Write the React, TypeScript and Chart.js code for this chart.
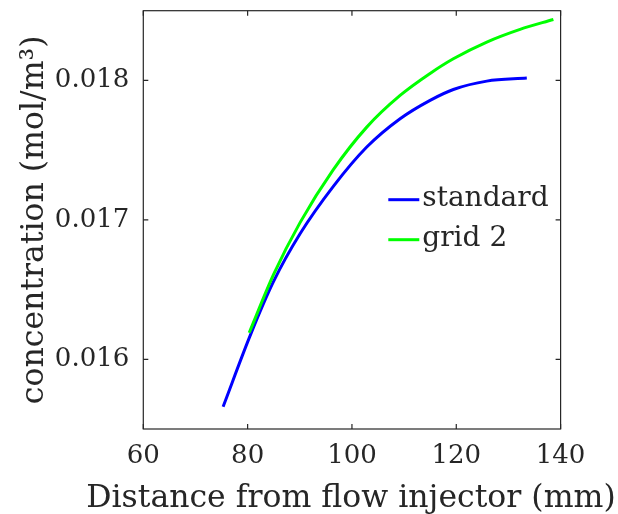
import React, { useEffect, useRef } from 'react';
import { Chart, registerables } from 'chart.js';

Chart.register(...registerables);

// ---- data ----
const standardX = [75.3, 80.6, 85, 90.05, 96.43, 102.84, 109.23, 114.98, 119.44, 125.85, 133.52];
const standardY = [0.01566, 0.01618, 0.01656, 0.0169, 0.01724, 0.017522, 0.017725, 0.017857, 0.017935, 0.017995, 0.018017];

const grid2X = [80.3, 85, 90.05, 96.43, 102.84, 109.23, 114.98, 119.44, 125.85, 132.23, 138.62];
const grid2Y = [0.01619, 0.01661, 0.01698, 0.01736, 0.017665, 0.017892, 0.01805, 0.018155, 0.018275, 0.018366, 0.018437];

const seriesNames = ['standard', 'grid 2'];
const seriesColors = ['#0000ff', '#00ff00'];

const xTicks = [60, 80, 100, 120, 140];
const yTicks = [0.016, 0.017, 0.018];
const xRange = [60, 140];
const yRange = [0.0155, 0.0185];

const xTitle = 'Distance from flow injector (mm)';
const yTitle = 'concentration (mol/m\u00B3)';

const AXIS = '#262626';
const FONT = "'DejaVu Serif', serif";

const boxPlugin = {
  id: 'matlabBox',
  afterDatasetsDraw(chart: any) {
    const { ctx, chartArea: a, scales } = chart;
    ctx.save();
    ctx.strokeStyle = AXIS;
    ctx.lineWidth = 1.2;
    ctx.strokeRect(a.left, a.top, a.right - a.left, a.bottom - a.top);
    const L = 5;
    ctx.beginPath();
    scales.x.ticks.forEach((t: any) => {
      const px = scales.x.getPixelForValue(t.value);
      ctx.moveTo(px, a.bottom);
      ctx.lineTo(px, a.bottom - L);
      ctx.moveTo(px, a.top);
      ctx.lineTo(px, a.top + L);
    });
    scales.y.ticks.forEach((t: any) => {
      const py = scales.y.getPixelForValue(t.value);
      ctx.moveTo(a.left, py);
      ctx.lineTo(a.left + L, py);
      ctx.moveTo(a.right, py);
      ctx.lineTo(a.right - L, py);
    });
    ctx.stroke();

    // legend inside the axes (no box)
    const lx0 = a.left + 245;
    const lx1 = a.left + 276;
    const tx = a.left + 279;
    const ly0 = a.top + 189;
    const rowH = 40;
    ctx.font = `28px ${FONT}`;
    ctx.textBaseline = 'middle';
    ctx.textAlign = 'left';
    chart.data.datasets.forEach((ds: any, i: number) => {
      const y = ly0 + i * rowH;
      ctx.strokeStyle = ds.borderColor;
      ctx.lineWidth = 3;
      ctx.beginPath();
      ctx.moveTo(lx0, y);
      ctx.lineTo(lx1, y);
      ctx.stroke();
      ctx.fillStyle = AXIS;
      ctx.fillText(ds.label, tx, y - 1);
    });

    // x-axis title (drawn unsquashed, wider than the axes)
    ctx.font = `31.5px ${FONT}`;
    ctx.fillStyle = AXIS;
    ctx.textAlign = 'center';
    ctx.textBaseline = 'alphabetic';
    ctx.fillText(xTitle, (a.left + a.right) / 2 - 1, a.bottom + 78);
    ctx.restore();
  },
};

export default function App() {
  const ref = useRef<HTMLCanvasElement>(null);

  useEffect(() => {
    if (!ref.current) return;
    const chart = new Chart(ref.current, {
      type: 'line',
      data: {
        datasets: [
          {
            label: seriesNames[0],
            data: standardX.map((x, i) => ({ x, y: standardY[i] })),
            borderColor: seriesColors[0],
            backgroundColor: seriesColors[0],
            borderWidth: 3,
            pointRadius: 0,
            fill: false,
            cubicInterpolationMode: 'monotone',
            order: 1,
          },
          {
            label: seriesNames[1],
            data: grid2X.map((x, i) => ({ x, y: grid2Y[i] })),
            borderColor: seriesColors[1],
            backgroundColor: seriesColors[1],
            borderWidth: 3,
            pointRadius: 0,
            fill: false,
            cubicInterpolationMode: 'monotone',
            order: 0,
          },
        ],
      },
      options: {
        animation: false,
        responsive: false,
        maintainAspectRatio: false,
        layout: { padding: { left: 0, top: 10.7, right: 57.4, bottom: 0 } },
        plugins: {
          legend: { display: false },
          tooltip: { enabled: false },
        },
        scales: {
          x: {
            type: 'linear',
            min: xRange[0],
            max: xRange[1],
            afterBuildTicks: (s: any) => {
              s.ticks = xTicks.map((v) => ({ value: v }));
            },
            afterFit: (s: any) => {
              s.height = 85;
              s.paddingLeft = 0;
              s.paddingRight = 0;
            },
            grid: { display: false, drawTicks: false },
            border: { display: false },
            ticks: {
              padding: 14,
              color: AXIS,
              maxRotation: 0,
              autoSkip: false,
              font: { family: FONT, size: 26, lineHeight: 1 },
              callback: (v: any) => String(v),
            },
            title: { display: false },
          },
          y: {
            type: 'linear',
            min: yRange[0],
            max: yRange[1],
            afterBuildTicks: (s: any) => {
              s.ticks = yTicks.map((v) => ({ value: v }));
            },
            afterFit: (s: any) => {
              s.width = 143.3;
              s.paddingTop = 0;
              s.paddingBottom = 0;
            },
            grid: { display: false, drawTicks: false },
            border: { display: false },
            ticks: {
              padding: 14,
              color: AXIS,
              autoSkip: false,
              font: { family: FONT, size: 26, lineHeight: 1 },
              callback: (v: any) => Number(v).toFixed(3),
            },
            title: {
              display: true,
              text: yTitle,
              color: AXIS,
              font: { family: FONT, size: 31.5, lineHeight: 1 },
              padding: { top: 19.5, bottom: 0 },
            },
          },
        },
      },
      plugins: [boxPlugin],
    } as any);
    return () => chart.destroy();
  }, []);

  return (
    <div style={{ position: 'fixed', left: 0, top: 0, width: 618, height: 514, background: '#fff' }}>
      <canvas ref={ref} width={618} height={514} style={{ width: 618, height: 514, display: 'block' }} />
    </div>
  );
}
